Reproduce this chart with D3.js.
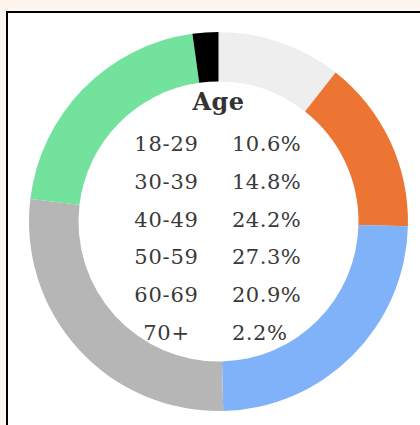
<!DOCTYPE html>
<html>
<head>
<meta charset="utf-8">
<script src="https://cdn.jsdelivr.net/npm/d3@7"></script>
<style>
  html, body { margin: 0; padding: 0; width: 420px; height: 425px; overflow: hidden; background: #fdf5ee; }
  #frame { position: absolute; left: 6px; top: 11px; width: 430px; height: 430px; background: #fff;
           border-left: 2.5px solid #000; border-top: 2.5px solid #000; }
  svg { position: absolute; left: 0; top: 0; }
</style>
</head>
<body>
<div id="frame"></div>
<svg id="chart" width="420" height="425"></svg>
<script>
const title = "Age";
const categories = ["18-29", "30-39", "40-49", "50-59", "60-69", "70+"];
const values = [10.6, 14.8, 24.2, 27.3, 20.9, 2.2];
const colors = ["#eeeeee", "#ec7534", "#80b2fa", "#b6b6b6", "#72e29d", "#000000"];

const svg = d3.select("#chart");
const cx = 218.5, cy = 221.5, rOuter = 189.5, rInner = 140;

const pie = d3.pie().sort(null).value(d => d.v);
const arcs = pie(categories.map((c, i) => ({ c, v: values[i], col: colors[i] })));
const arc = d3.arc().innerRadius(rInner).outerRadius(rOuter);

const g = svg.append("g").attr("transform", `translate(${cx},${cy})`);
g.selectAll("path").data(arcs).join("path")
  .attr("d", arc)
  .attr("fill", d => d.data.col);

const font = "'DejaVu Serif', serif";
svg.append("text")
  .attr("x", 218.5).attr("y", 110)
  .attr("text-anchor", "middle")
  .attr("font-family", font).attr("font-weight", "bold")
  .attr("font-size", 24).attr("letter-spacing", 0.5)
  .attr("fill", "#333")
  .text(title);

const y = d3.scalePoint().domain(categories).range([151, 340]);
const rows = svg.append("g");
rows.selectAll("text.cat").data(categories).join("text")
  .attr("class", "cat")
  .attr("x", 166.5).attr("y", d => y(d))
  .attr("text-anchor", "middle")
  .attr("font-family", font).attr("font-size", 21).attr("letter-spacing", 0.8)
  .attr("fill", "#3a3a3a")
  .text(d => d);
rows.selectAll("text.val").data(values).join("text")
  .attr("class", "val")
  .attr("x", 232).attr("y", (d, i) => y(categories[i]))
  .attr("text-anchor", "start")
  .attr("font-family", font).attr("font-size", 21).attr("letter-spacing", 0.5)
  .attr("fill", "#3a3a3a")
  .text(d => d.toFixed(1) + "%");
</script>
</body>
</html>
